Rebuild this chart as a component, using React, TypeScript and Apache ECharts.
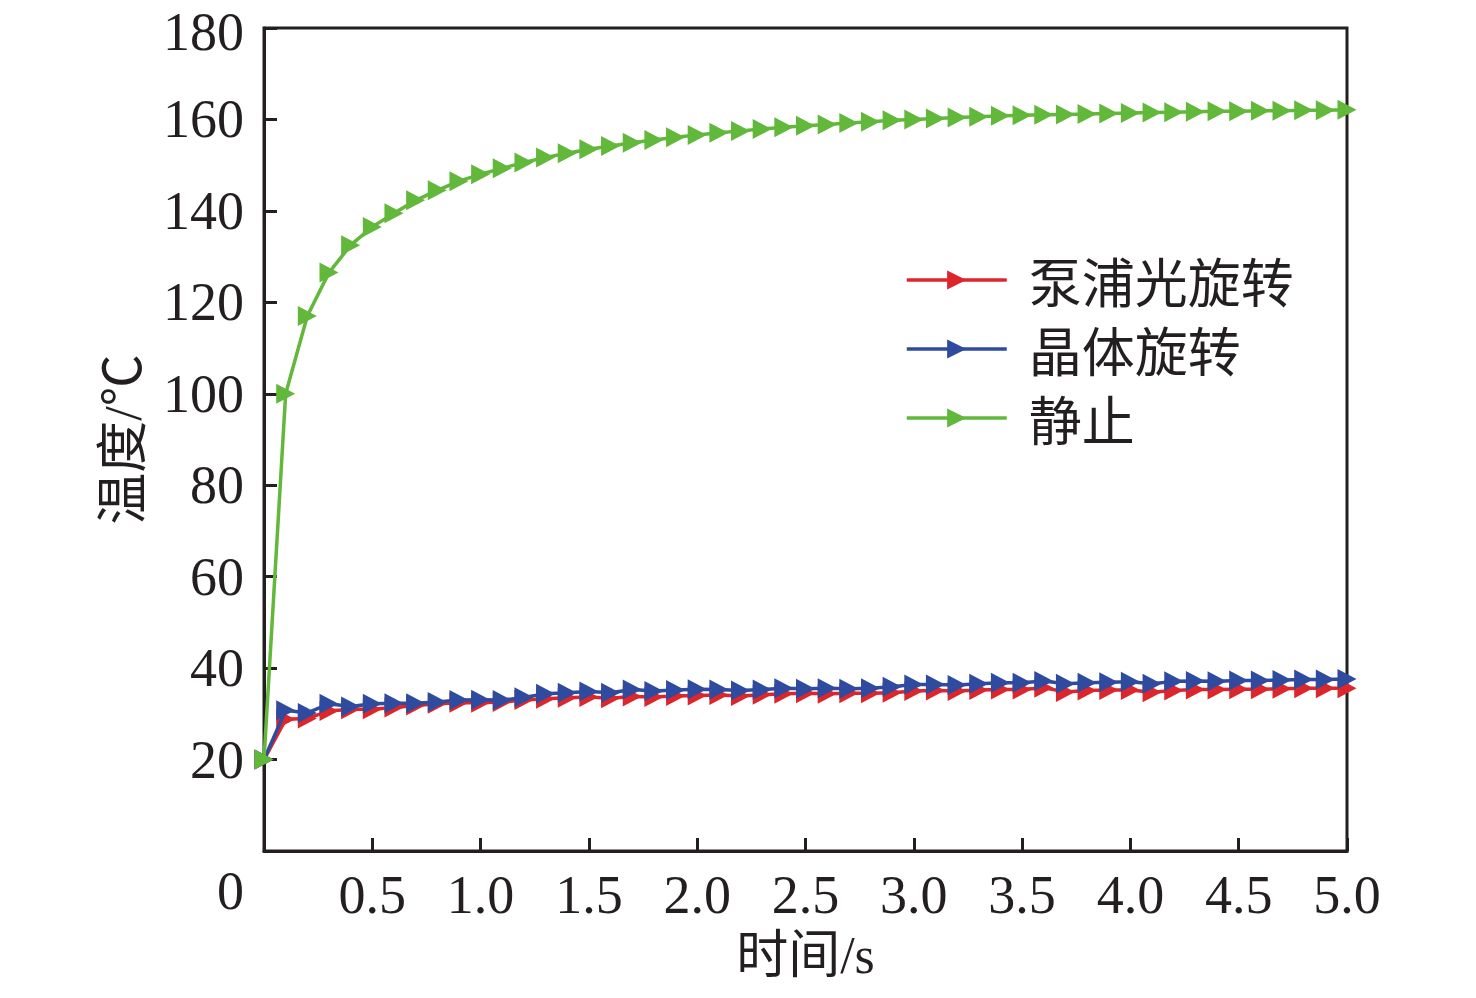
import React, { useEffect, useRef } from "react";
import * as echarts from "echarts";

const timeS = [
  0, 0.1, 0.2, 0.3, 0.4, 0.5, 0.6, 0.7, 0.8, 0.9, 1.0, 1.1, 1.2, 1.3, 1.4, 1.5, 1.6, 1.7, 1.8, 1.9, 2.0,
  2.1, 2.2, 2.3, 2.4, 2.5, 2.6, 2.7, 2.8, 2.9, 3.0, 3.1, 3.2, 3.3, 3.4, 3.5, 3.6, 3.7, 3.8, 3.9, 4.0,
  4.1, 4.2, 4.3, 4.4, 4.5, 4.6, 4.7, 4.8, 4.9, 5.0,
];

const pumpRotation = [
  20, 28.8, 29.0, 30.6, 31.0, 31.0, 31.4, 31.8, 32.2, 32.4, 32.4, 32.6, 33.0, 33.3, 33.5, 33.7, 33.4, 33.8, 33.7, 33.9, 34.0,
  34.1, 33.9, 34.2, 34.4, 34.5, 34.4, 34.5, 34.5, 34.6, 35.0, 35.1, 35.0, 35.2, 35.3, 35.3, 35.7, 34.8, 35.1, 35.2, 35.2,
  34.7, 35.1, 35.3, 35.3, 35.4, 35.4, 35.5, 35.6, 35.6, 35.6,
];

const crystalRotation = [
  20, 30.8, 30.2, 32.2, 31.6, 32.2, 32.3, 32.3, 32.6, 33.0, 33.1, 33.0, 33.6, 34.4, 34.6, 34.9, 34.6, 35.3, 35.0, 35.2, 35.4,
  35.3, 35.1, 35.3, 35.6, 35.5, 35.6, 35.5, 35.6, 35.9, 36.4, 36.4, 36.3, 36.6, 36.8, 36.8, 37.2, 36.6, 36.8, 36.9, 37.0,
  36.6, 37.1, 37.2, 37.1, 37.3, 37.3, 37.4, 37.5, 37.5, 37.6,
];

const stationary = [
  20, 100, 117, 126.5, 132.5, 136.5, 139.5, 142.3, 144.5, 146.5, 148, 149.3, 150.6, 151.7, 152.6, 153.5, 154.2, 154.9, 155.5, 156.1, 156.6,
  157.1, 157.5, 157.9, 158.3, 158.6, 158.9, 159.2, 159.5, 159.8, 160.0, 160.2, 160.4, 160.6, 160.8, 160.9, 161.0, 161.1, 161.2, 161.3, 161.4,
  161.5, 161.6, 161.7, 161.8, 161.8, 161.9, 161.9, 162.0, 162.0, 162.1,
];

const seriesNames = ["泵浦光旋转", "晶体旋转", "静止"];
const seriesColors = ["#dc262c", "#2f4b9f", "#61b83a"];
const seriesValues = [pumpRotation, crystalRotation, stationary];

const SERIF = '"Liberation Serif", "Times New Roman", "Noto Sans CJK SC", serif';
const TRI = "path://M0,0 L10,5 L0,10 Z";

export default function App() {
  const ref = useRef<HTMLDivElement>(null);
  useEffect(() => {
    if (!ref.current) return;
    const chart = echarts.init(ref.current, null, { renderer: "svg" });
    chart.setOption({
      animation: false,
      backgroundColor: "#ffffff",
      textStyle: { fontFamily: SERIF },
      grid: {
        left: 264,
        right: 129,
        top: 28,
        bottom: 147,
        show: true,
        borderColor: "#231f20",
        borderWidth: 3,
        backgroundColor: "transparent",
      },
      legend: {
        orient: "vertical",
        left: 900,
        top: 245,
        itemWidth: 100,
        itemHeight: 24,
        itemGap: 9,
        data: seriesNames,
        lineStyle: { width: 3.5 },
        textStyle: {
          fontSize: 53,
          color: "#231f20",
          fontFamily: '"Noto Sans CJK SC", sans-serif',
          lineHeight: 60,
          padding: [0, 0, 0, 17],
        },
      },
      xAxis: {
        type: "value",
        min: 0,
        max: 5,
        interval: 0.5,
        name: "时间/s",
        nameLocation: "middle",
        nameGap: 78,
        nameTextStyle: { fontSize: 52, color: "#231f20", fontFamily: SERIF },
        axisLine: { show: true, lineStyle: { color: "#231f20", width: 3 } },
        axisTick: { show: true, inside: true, length: 13, lineStyle: { color: "#231f20", width: 3 } },
        axisLabel: {
          fontSize: 54,
          color: "#231f20",
          margin: 17,
          fontFamily: SERIF,
          formatter: (v: number) => (v === 0 ? "" : v.toFixed(1)),
        },
        splitLine: { show: false },
      },
      yAxis: {
        type: "value",
        min: 0,
        max: 180,
        interval: 20,
        name: "温度/℃",
        nameLocation: "middle",
        nameGap: 115,
        nameRotate: 90,
        nameTextStyle: { fontSize: 52, color: "#231f20", fontFamily: SERIF },
        axisLine: { show: true, lineStyle: { color: "#231f20", width: 3 } },
        axisTick: { show: true, inside: true, length: 13, lineStyle: { color: "#231f20", width: 3 } },
        axisLabel: {
          fontSize: 54,
          color: "#231f20",
          margin: 20,
          fontFamily: SERIF,
          formatter: (v: number) => (v === 0 ? "" : v === 180 ? "{top|180}" : String(v)),
          rich: {
            top: {
              fontSize: 54,
              color: "#231f20",
              fontFamily: SERIF,
              padding: [8, 0, 0, 0],
            },
          },
        },
        splitLine: { show: false },
      },
      graphic: [
        {
          type: "text",
          left: 217,
          top: 864,
          style: { text: "0", fontSize: 54, fill: "#231f20", fontFamily: SERIF },
        },
      ],
      series: seriesNames.map((name, i) => ({
        name,
        type: "line",
        data: timeS.map((t, j) => [t, seriesValues[i][j]]),
        symbol: TRI,
        symbolSize: [19, 20],
        showSymbol: true,
        showAllSymbol: true,
        lineStyle: { color: seriesColors[i], width: 3.5 },
        itemStyle: { color: seriesColors[i] },
        color: seriesColors[i],
        z: 2 + i,
      })),
    });
    return () => chart.dispose();
  }, []);
  return (
    <div
      ref={ref}
      style={{ position: "fixed", left: 0, top: 0, width: 1476, height: 998, background: "#fff" }}
    />
  );
}
